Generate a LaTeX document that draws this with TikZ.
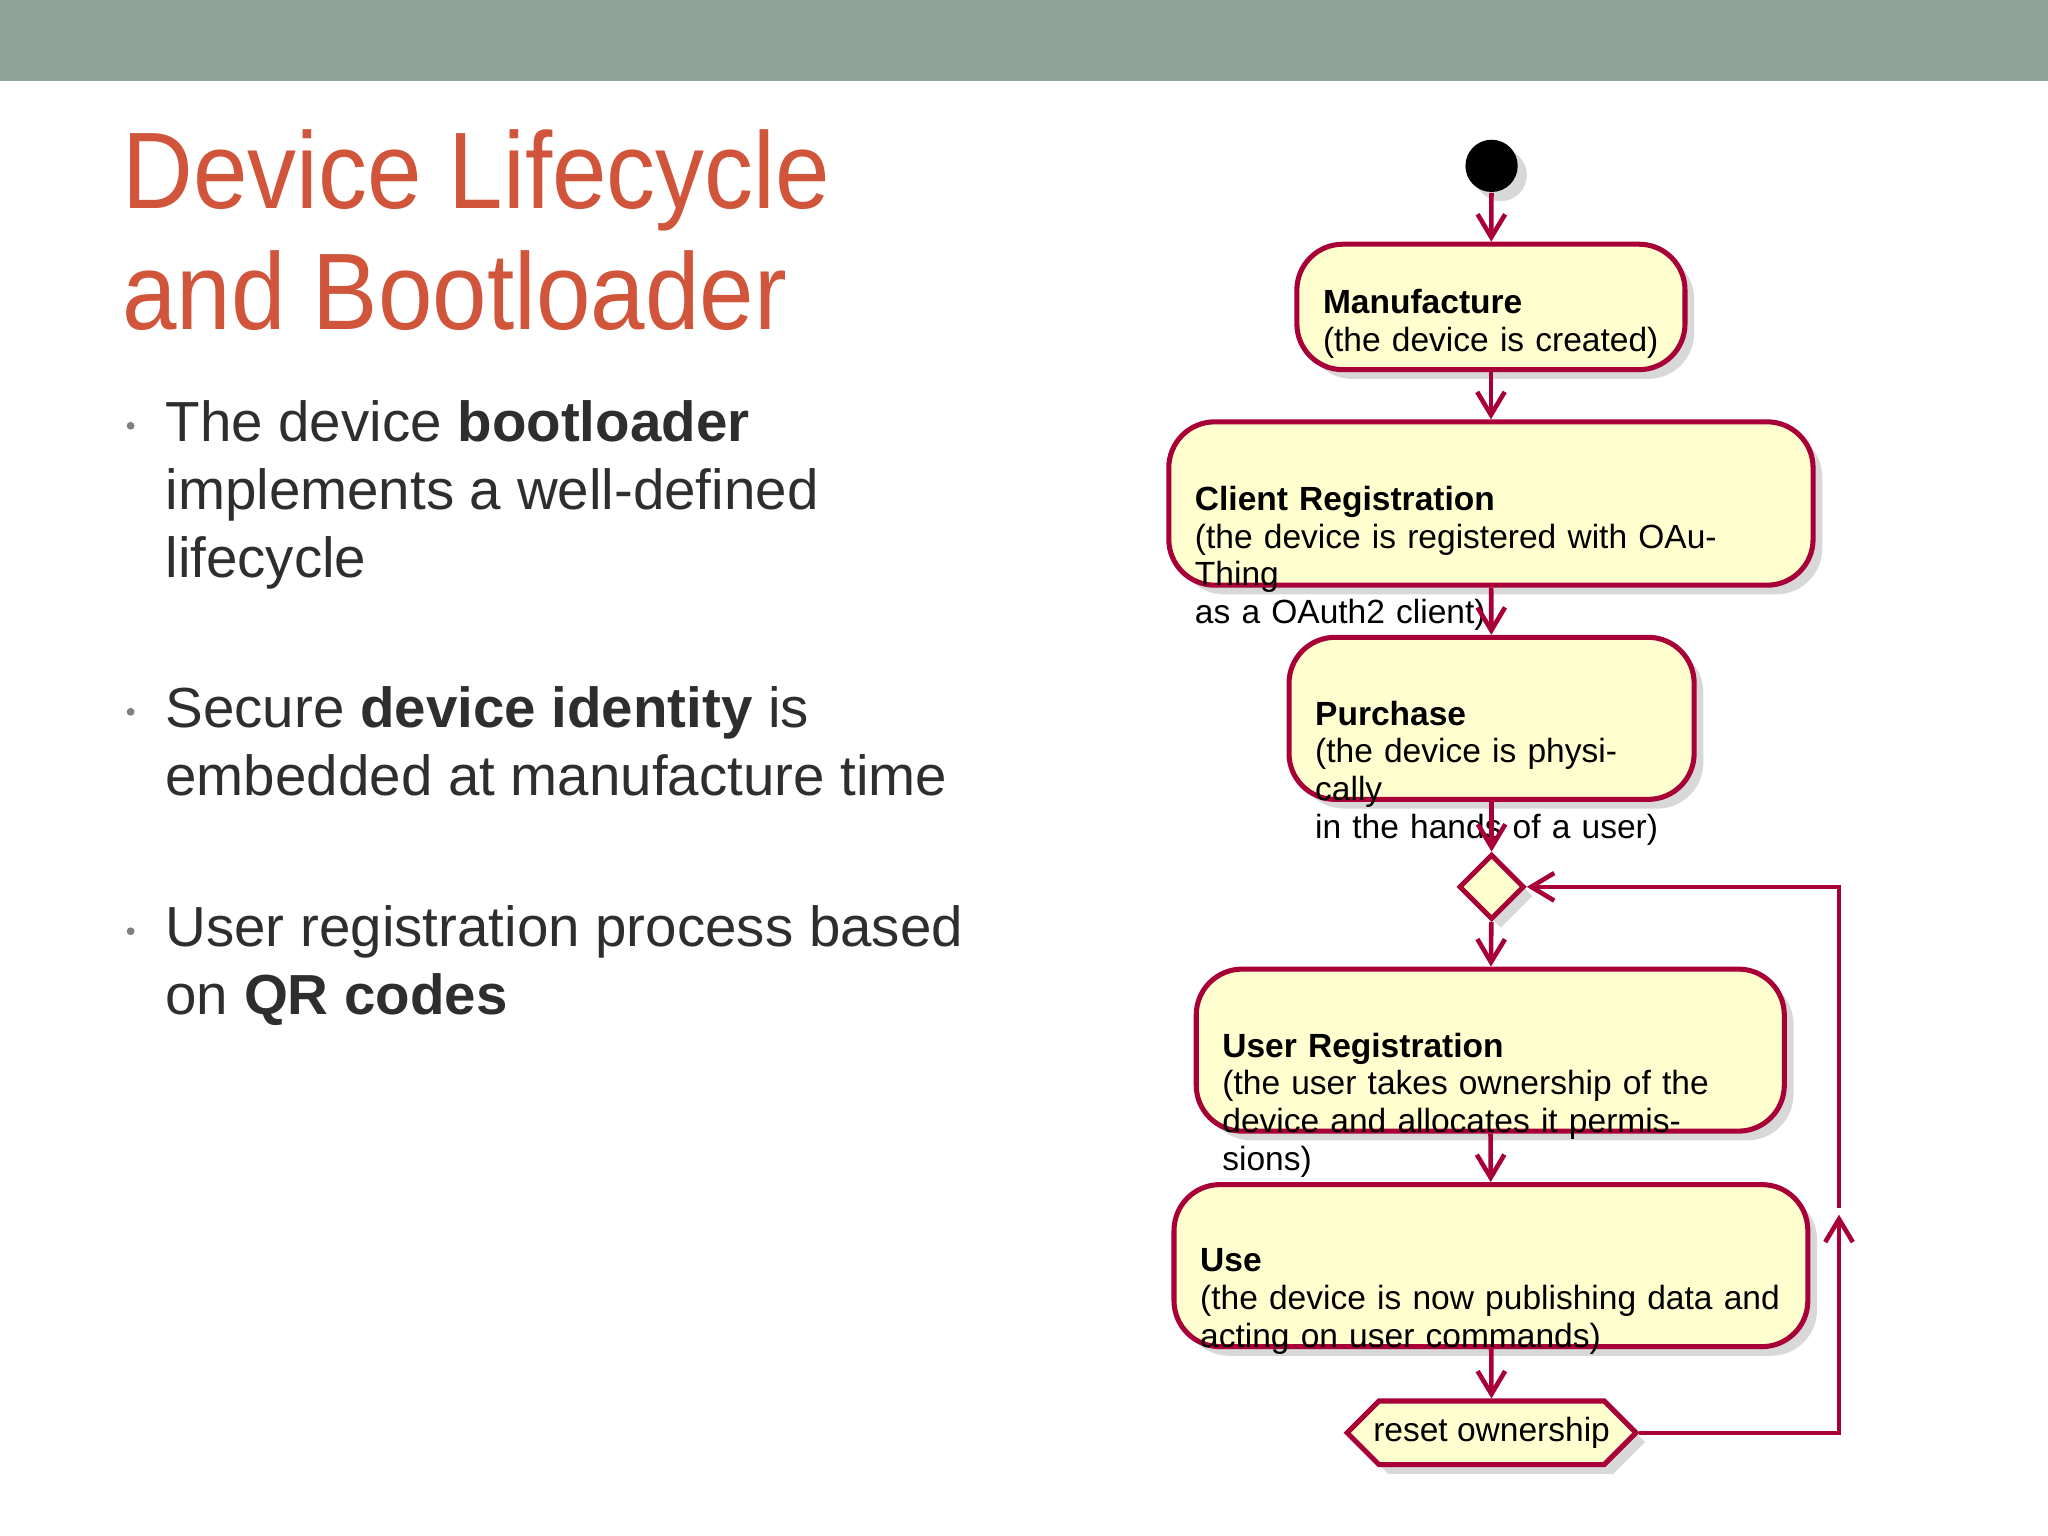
\documentclass[tikz,border=0pt]{standalone}
\usepackage{fontspec}
\setmainfont{Liberation Sans}
\usetikzlibrary{shadows,shapes.misc,shapes.geometric,arrows.meta}
\definecolor{band}{HTML}{8FA39A}
\definecolor{ttl}{HTML}{D0553A}
\definecolor{txt}{HTML}{2E2E2E}
\definecolor{crim}{HTML}{A80036}
\definecolor{boxf}{HTML}{FEFECE}
\begin{document}
\begin{tikzpicture}[x=0.01cm,y=-0.01cm,
 box/.style={draw=crim,line width=1.1pt,fill=boxf,rounded corners=10pt,drop shadow={shadow xshift=2pt,shadow yshift=-2pt,fill=black!30},align=left,font=\fontsize{7.3pt}{8.2pt}\selectfont,inner sep=0pt},
 arr/.style={draw=crim,line width=1pt,-{Straight Barb[length=5pt,width=6pt]}},
 bl/.style={anchor=base west,inner sep=0pt,text=txt,font=\fontsize{12.3pt}{14.8pt}\selectfont},
 tl/.style={anchor=base west,inner sep=0pt,text=ttl,xscale=0.9,transform shape,font=\fontsize{23.7pt}{26pt}\selectfont}]
\useasboundingbox (0,0) rectangle (1568,1176);
\fill[band] (0,0) rectangle (1568,62);
\node[tl] (t1) at (93,160) {Device Lifecycle};
\node[tl] (t2) at (93,252) {and Bootloader};
\foreach \y in {326,545,713} \fill[gray] (100,\y) circle (3);
\node[bl] (b1) at (126,338) {The device \textbf{bootloader}};
\node[bl] (b2) at (126,390) {implements a well-defined};
\node[bl] (b3) at (126,442) {lifecycle};
\node[bl] (b4) at (126,557) {Secure \textbf{device identity} is};
\node[bl] (b5) at (126,609) {embedded at manufacture time};
\node[bl] (b6) at (126,725) {User registration process based};
\node[bl] (b7) at (126,777) {on \textbf{QR codes}};
% flowchart
\node[circle,fill=black,minimum size=0.4cm,inner sep=0pt,drop shadow={shadow xshift=2pt,shadow yshift=-2pt,fill=black!30}] (s) at (1142,127) {};
\node[box,minimum width=2.97cm,minimum height=0.96cm,text width=2.57cm,text depth=0.08cm] (m) at (1141.5,235) {\textbf{Manufacture}\\(the device is created)};
\node[box,minimum width=4.93cm,minimum height=1.25cm,text width=4.53cm,text depth=0.08cm] (c) at (1141.5,385.5) {\textbf{Client Registration}\\(the device is registered with OAuThing\\as a OAuth2 client)};
\node[box,minimum width=3.10cm,minimum height=1.24cm,text width=2.70cm,text depth=0.08cm] (p) at (1142,550) {\textbf{Purchase}\\(the device is physically\\in the hands of a user)};
\node[draw=crim,line width=1.1pt,fill=boxf,diamond,minimum size=0.5cm,inner sep=0pt,drop shadow={shadow xshift=2pt,shadow yshift=-2pt,fill=black!30}] (d) at (1142,679) {};
\node[box,minimum width=4.50cm,minimum height=1.24cm,text width=4.10cm,text depth=0.08cm] (u) at (1141,804) {\textbf{User Registration}\\(the user takes ownership of the\\device and allocates it permissions)};
\node[box,minimum width=4.85cm,minimum height=1.24cm,text width=4.45cm,text depth=0.08cm] (us) at (1141.5,969) {\textbf{Use}\\(the device is now publishing data and\\acting on user commands)};
\node[draw=crim,line width=1.1pt,fill=boxf,chamfered rectangle,chamfered rectangle xsep=0.2cm,minimum width=2.21cm,minimum height=0.48cm,inner sep=0pt,font=\fontsize{7.3pt}{8.2pt}\selectfont,drop shadow={shadow xshift=2pt,shadow yshift=-2pt,fill=black!30}] (r) at (1142,1097) {reset ownership};
\draw[arr] (s) -- (m);
\draw[arr] (m) -- (c);
\draw[arr] (c) -- (p);
\draw[arr] (p) -- (d);
\draw[arr] (d) -- (u);
\draw[arr] (u) -- (us);
\draw[arr] (us) -- (r);
\coordinate (k1) at (1408,1097);
\coordinate (k2) at (1408,679);
\draw[arr] (r.east) -- (k1) -- (1408,930);
\draw[arr] (1408,925) -- (k2) -- (d.east);
\end{tikzpicture}
\end{document}
